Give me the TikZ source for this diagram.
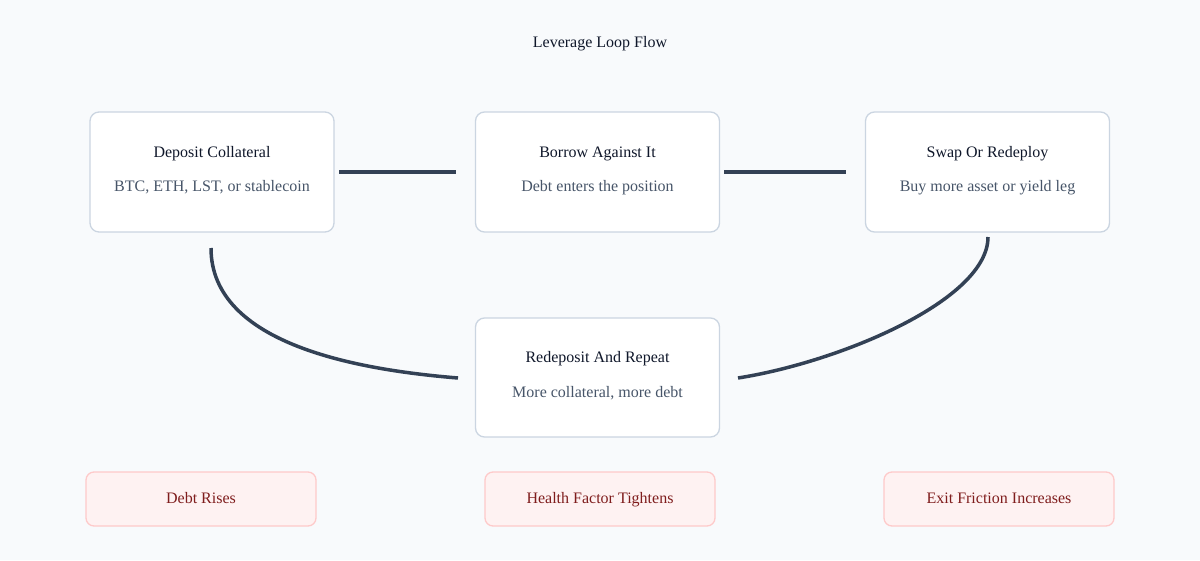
\documentclass[tikz,border=0pt]{standalone}
\usepackage{fontspec}
\setmainfont{Liberation Serif}
\begin{document}
\begin{tikzpicture}[x=1pt,y=-1pt,
  box/.style={draw=slate,fill=white,rounded corners=9pt,line width=1.3pt,minimum width=244pt,minimum height=120pt,inner sep=0pt},
  pill/.style={draw=pinkb,fill=pinkf,rounded corners=8pt,line width=1.3pt,minimum width=230pt,minimum height=54pt,font=\fontsize{16}{19}\selectfont,text=darkred,text height=11pt,text depth=3pt},
  ttl/.style={font=\fontsize{16}{19}\selectfont,text=titlec,text height=11pt,text depth=3pt},
  sub/.style={font=\fontsize{16}{19}\selectfont,text=subc,text height=11pt,text depth=3pt},
  link/.style={draw=linec,line width=3.5pt}]
\definecolor{bg}{HTML}{F8FAFC}
\definecolor{slate}{HTML}{CBD5E1}
\definecolor{pinkb}{HTML}{FECACA}
\definecolor{pinkf}{HTML}{FEF2F2}
\definecolor{darkred}{HTML}{7F1D1D}
\definecolor{titlec}{HTML}{0F172A}
\definecolor{subc}{HTML}{475569}
\definecolor{linec}{HTML}{334155}
\fill[bg] (0,0) rectangle (1200,560);
\useasboundingbox (0,0) rectangle (1200,560);
\node[ttl] (title) at (600,43) {Leverage Loop Flow};
\node[box] (b1) at (212,172) {};
\node[box] (b2) at (597.5,172) {};
\node[box] (b3) at (987.5,172) {};
\node[box,minimum height=119pt] (b4) at (597.5,377.5) {};
\node[ttl] (t1) at (212,153) {Deposit Collateral};
\node[sub] (s1) at (212,187) {BTC, ETH, LST, or stablecoin};
\node[ttl] (t2) at (597.5,153) {Borrow Against It};
\node[sub] (s2) at (597.5,187) {Debt enters the position};
\node[ttl] (t3) at (987.5,153) {Swap Or Redeploy};
\node[sub] (s3) at (987.5,187) {Buy more asset or yield leg};
\node[ttl] (t4) at (597.5,358) {Redeposit And Repeat};
\node[sub] (s4) at (597.5,393) {More collateral, more debt};
\node[pill] (p1) at (201,499) {Debt Rises};
\node[pill] (p2) at (600,499) {Health Factor Tightens};
\node[pill] (p3) at (999,499) {Exit Friction Increases};
\coordinate (a1) at (339,172); \coordinate (a2) at (456,172);
\coordinate (c1) at (724,172); \coordinate (c2) at (846,172);
\coordinate (d1) at (211,248); \coordinate (d2) at (458,378);
\coordinate (e1) at (988,237); \coordinate (e2) at (738,378);
\draw[link] (a1) -- (a2);
\draw[link] (c1) -- (c2);
\draw[link] (d1) .. controls (211,345) and (360,370) .. (d2);
\draw[link] (e1) .. controls (988,300) and (840,362) .. (e2);
\end{tikzpicture}
\end{document}
